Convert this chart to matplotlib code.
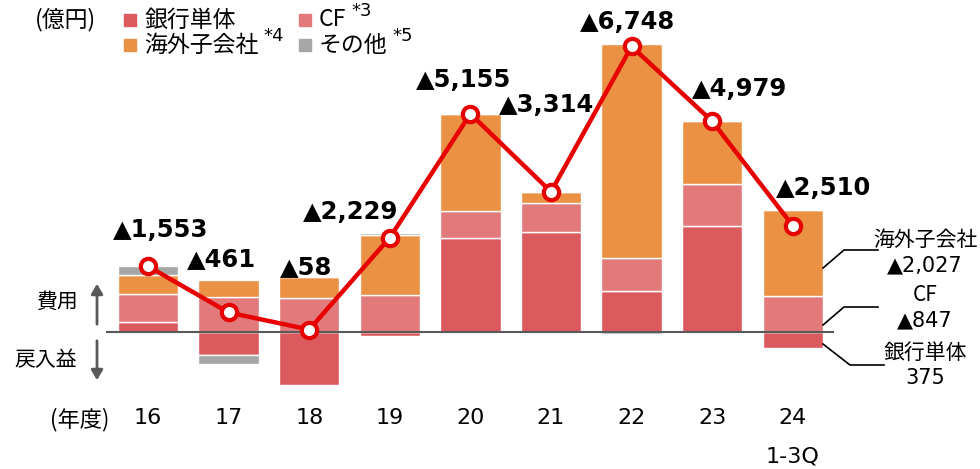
import numpy as np
import matplotlib.pyplot as plt
from matplotlib.patches import Rectangle
import matplotlib.transforms as mtransforms

plt.rcParams['font.family'] = ['Noto Sans CJK JP', 'DejaVu Sans']

# data (億円), positive = cost, negative = reversal gain
years = ['16', '17', '18', '19', '20', '21', '22', '23', '24']
bank = [240, -550, -1252, -100, 2230, 2360, 969, 2510, -375]
cf = [650, 820, 800, 870, 630, 680, 772, 980, 847]
overseas = [460, 400, 510, 1420, 2295, 274, 5065, 1489, 2027]
other = [203, -209, 0, 39, 0, 0, -58, 0, 11]
totals = [1553, 461, 58, 2229, 5155, 3314, 6748, 4979, 2510]
total_labels = ['▲1,553', '▲461', '▲58', '▲2,229', '▲5,155', '▲3,314', '▲6,748', '▲4,979', '▲2,510']

c_bank = '#DB5A5E'
c_cf = '#E27A7C'
c_ovs = '#EA9144'
c_oth = '#A6A6A6'
c_line = '#E60000'

W, H = 980, 469
fig = plt.figure(figsize=(W / 100, H / 100), dpi=100)
ax = fig.add_axes([0, 0, 1, 1])
ax.axis('off')

# pixel mapping: x center of bar i = 148 + 80.6*i, zero at y=332 px from top
step = 80.6
upp = 23.63  # units per pixel
ax.set_xlim(-148 / step, (W - 148) / step)
ax.set_ylim(-(H - 332) * upp, 332 * upp)


def fx(x):
    return x / W


def fy(y):
    return 1 - y / H


x = np.arange(len(years))
pos_bottom = np.zeros(len(years))
neg_bottom = np.zeros(len(years))
for vals, col in [(bank, c_bank), (cf, c_cf), (overseas, c_ovs), (other, c_oth)]:
    vals = np.array(vals, dtype=float)
    bottoms = np.where(vals >= 0, pos_bottom, neg_bottom)
    ax.bar(x, vals, bottom=bottoms, width=0.75, color=col, edgecolor='white',
           linewidth=1.0, zorder=2)
    pos_bottom += np.where(vals >= 0, vals, 0)
    neg_bottom += np.where(vals < 0, vals, 0)

# zero line
ax.plot([-0.51, 8.5], [0, 0], color='#595959', lw=1.5, zorder=3)

# total line
ax.plot(x, totals, color=c_line, lw=3.2, marker='o', ms=11, mfc='white',
        mec=c_line, mew=3, zorder=5)

# total labels
label_pos = [(160.5, 230), (221.5, 259), (306.5, 267), (350.5, 212), (464, 80),
             (546.5, 105), (628, 22), (740, 89), (824, 188)]
for (px, py), t in zip(label_pos, total_labels):
    fig.text(fx(px), fy(py), t, ha='center', va='center', fontsize=17.5,
             fontweight='bold', family='DejaVu Sans', color='black')

# x tick labels
trans = mtransforms.blended_transform_factory(ax.transData, fig.transFigure)
for i, yl in enumerate(years):
    ax.text(i, fy(418), yl, transform=trans, ha='center', va='center',
            fontsize=16, family='DejaVu Sans')
ax.text(8, fy(456), '1-3Q', transform=trans, ha='center', va='center',
        fontsize=16, family='DejaVu Sans')
fig.text(fx(80), fy(420), '(年度)', ha='center', va='center', fontsize=16)

# left side labels and arrows
fig.text(fx(58), fy(302), '費用', ha='center', va='center', fontsize=15)
fig.text(fx(46), fy(360), '戻入益', ha='center', va='center', fontsize=15)
arrow_kw = dict(arrowstyle='-|>,head_width=0.35,head_length=0.6', color='#595959', lw=2)
ax.annotate('', xy=(97, H - 281), xycoords='figure pixels',
            xytext=(97, H - 327), textcoords='figure pixels', arrowprops=arrow_kw)
ax.annotate('', xy=(97, H - 383), xycoords='figure pixels',
            xytext=(97, H - 338), textcoords='figure pixels', arrowprops=arrow_kw)

# legend
fig.text(fx(65), fy(20), '(億円)', ha='center', va='center', fontsize=16.5)
legend_items = [
    (130, 20, c_bank, '銀行単体', ''),
    (305, 20, c_cf, 'CF', '*3'),
    (130, 45, c_ovs, '海外子会社', '*4'),
    (305, 45, c_oth, 'その他', '*5'),
]
for lx, ly, col, txt, sup in legend_items:
    fig.add_artist(Rectangle((fx(lx - 6), fy(ly + 6)), 12 / W, 12 / H,
                             transform=fig.transFigure, color=col))
    t = fig.text(fx(lx + 14), fy(ly), txt, ha='left', va='center', fontsize=16.5)
    if sup:
        fig.canvas.draw()
        bb = t.get_window_extent()
        fig.text((bb.x1 + 5) / W, fy(ly - 9), sup, ha='left', va='center',
                 fontsize=13, family='DejaVu Sans')

# right side breakdown for FY24
right_notes = [
    ([(823, 268), (844, 250), (878, 250)], '海外子会社', '▲2,027', 240, 265),
    ([(823, 325), (844, 307), (878, 307)], 'CF', '▲847', 295, 320),
    ([(823, 344), (850, 365), (884, 365)], '銀行単体', '375', 353, 378),
]
for pts, t1, t2, y1, y2 in right_notes:
    xs = [fx(p[0]) for p in pts]
    ys = [fy(p[1]) for p in pts]
    fig.add_artist(plt.Line2D(xs, ys, transform=fig.transFigure, color='black', lw=1.2))
    fig.text(fx(925), fy(y1), t1, ha='center', va='center', fontsize=15)
    fig.text(fx(925), fy(y2), t2, ha='center', va='center', fontsize=15,
             family=['DejaVu Sans'])

fig.savefig('out.png', dpi=100)
